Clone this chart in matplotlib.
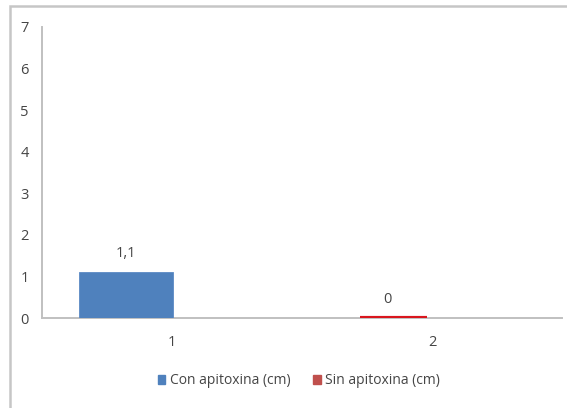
import matplotlib
matplotlib.use("Agg")
import matplotlib.pyplot as plt
from matplotlib.patches import Rectangle, Patch
import numpy as np

# Data
categories = ["1", "2"]
series_names = ["Con apitoxina (cm)", "Sin apitoxina (cm)"]
con_apitoxina = [1.1, None]
sin_apitoxina = [None, 0.0]
con_labels = ["1,1", ""]
sin_labels = ["", "0"]
y_ticks = [0, 1, 2, 3, 4, 5, 6, 7]

blue = "#4f81bd"
red_bar = "#d9161d"
red_legend = "#c0504d"
text_col = "#454545"
axis_col = "#c0c0c0"

plt.rcParams["font.family"] = ["Open Sans", "DejaVu Sans"]

fig = plt.figure(figsize=(5.67, 4.08), dpi=100)
ax = fig.add_axes([42 / 567, 1 - 318 / 408, 520 / 567, 291 / 408])

x = np.arange(len(categories))

# Blue series
for xi, v, lab in zip(x, con_apitoxina, con_labels):
    if v is None:
        continue
    ax.bar(xi - 0.177, v, width=0.36, color=blue, edgecolor="#5b8ac4", linewidth=0.6, zorder=3)
    ax.text(xi - 0.177, v + 0.26, lab, ha="center", va="bottom", fontsize=10.5, color=text_col)

# Red series (zero-height bar drawn as a thin line)
for xi, v, lab in zip(x, sin_apitoxina, sin_labels):
    if v is None:
        continue
    ax.bar(xi - 0.148, v, width=0.26, color=red_bar, edgecolor=red_bar, linewidth=3, zorder=4)
    ax.text(xi - 0.17, v + 0.27, lab, ha="center", va="bottom", fontsize=10.5, color=text_col)

ax.set_xlim(-0.5, 1.5)
ax.set_ylim(0, 7)
ax.set_yticks(y_ticks)
ax.set_yticklabels([str(t) for t in y_ticks])
ax.set_xticks(x)
ax.set_xticklabels(categories)

for side in ("top", "right"):
    ax.spines[side].set_visible(False)
for side in ("left", "bottom"):
    ax.spines[side].set_color(axis_col)
    ax.spines[side].set_linewidth(1.4)
ax.spines["bottom"].set_zorder(2)

ax.tick_params(axis="both", length=0, labelsize=10.5, labelcolor=text_col)
ax.tick_params(axis="y", pad=9.5)
ax.tick_params(axis="x", pad=12)

handles = [Patch(facecolor=blue, edgecolor=blue), Patch(facecolor=red_legend, edgecolor=red_legend)]
leg = fig.legend(handles, series_names, loc="center", bbox_to_anchor=(299 / 567, 1 - 381 / 408),
                 ncol=2, frameon=False, fontsize=10, handlelength=0.55, handleheight=0.6,
                 handletextpad=0.35, columnspacing=1.6)
for t in leg.get_texts():
    t.set_color(text_col)

# Outer chart frame
fig.patches.append(Rectangle((10 / 567, -0.05), 1.2, 1 - 6 / 408 + 0.05, transform=fig.transFigure,
                             fill=False, edgecolor="#c6c6c6", linewidth=1.8, clip_on=False))

fig.savefig("out.png", dpi=100, facecolor="white")
